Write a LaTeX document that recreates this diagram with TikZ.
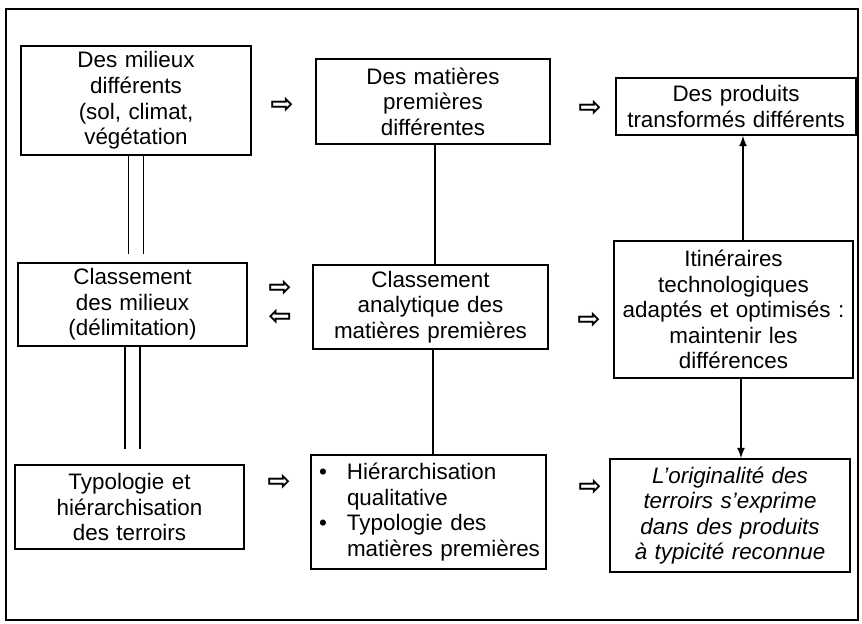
\documentclass[tikz,border=0pt]{standalone}
\usepackage{fontspec}
\setmainfont{Liberation Sans}
\newfontfamily\symfont{DejaVu Sans}
\usepackage{tikz}
\tikzset{boite/.style={rectangle, thick, draw, align=center, inner xsep=0pt, inner ysep=0pt,
   font=\fontsize{11.2}{12.8}\selectfont}}
\tikzset{fleche/.style={inner sep=0pt, font=\symfont\bfseries\fontsize{14}{14}\selectfont}}
\tikzset{trait/.style={thick}}

\begin{document}
\begin{tikzpicture}[x=0.5pt, y=-0.5pt]

    \useasboundingbox (0,0) rectangle (862,624);
    \draw[trait] (6,9) rectangle (858,620);

    % premiere ligne
    \node[boite, text width=115pt, minimum height=54.5pt] (milieux) at (136,100.5)
        {Des milieux\\ différents\\ (sol, climat,\\ végétation};
    \node[boite, text width=117pt, minimum height=42.5pt] (matieres) at (433,101.5)
        {Des matières\\ premières\\ différentes};
    \node[boite, text width=120pt, minimum height=28.5pt] (produits) at (736,106.5)
        {Des produits\\ transformés différents};

    % deuxieme ligne
    \node[boite, text width=114.5pt, minimum height=41.5pt] (classmil) at (132.5,304.5)
        {Classement\\ des milieux\\ (délimitation)};
    \node[boite, text width=117.5pt, minimum height=42pt] (classmat) at (430.5,307)
        {Classement\\ analytique des\\ matières premières};
    \node[boite, text width=119.5pt, minimum height=68.5pt] (itin) at (733.5,309.5)
        {Itinéraires\\ technologiques\\ adaptés et optimisés :\\ maintenir les\\ différences};

    % troisieme ligne
    \node[boite, text width=114.5pt, minimum height=42pt] (typo) at (129.5,507)
        {Typologie et\\ hiérarchisation\\ des terroirs};
    \node[boite, align=left, text width=117.5pt, minimum height=57pt] (hier) at (428.5,512)
        {\hspace*{4pt}\makebox[14pt][l]{\textbullet}Hiérarchisation\\
         \hspace*{18pt}qualitative\\
         \hspace*{4pt}\makebox[14pt][l]{\textbullet}Typologie des\\
         \hspace*{18pt}matières premières};
    \node[boite, text width=120pt, minimum height=56.5pt, font=\fontsize{11.2}{12.8}\selectfont\itshape] (orig) at (730,515.5)
        {L'originalité des\\ terroirs s'exprime\\ dans des produits\\ à typicité reconnue};

    % fleches creuses
    \node[fleche] (f1) at (282,105) {⇨};
    \node[fleche] (f2) at (590,108) {⇨};
    \node[fleche] (f3) at (280,288) {⇨};
    \node[fleche] (f4) at (280,317) {⇦};
    \node[fleche] (f5) at (589,320) {⇨};
    \node[fleche] (f6) at (279,482) {⇨};
    \node[fleche] (f7) at (590,487) {⇨};

    % liaisons
    \draw[trait, shorten >=4pt] ([xshift=-3.75pt]milieux.south) -- ([xshift=-3.75pt]milieux.south |- classmil.north);
    \draw[trait, shorten >=4pt] ([xshift=3.75pt]milieux.south) -- ([xshift=3.75pt]milieux.south |- classmil.north);
    \draw[trait, shorten >=7.5pt] ([xshift=-3.75pt]classmil.south) -- ([xshift=-3.75pt]classmil.south |- typo.north);
    \draw[trait, shorten >=7.5pt] ([xshift=3.75pt]classmil.south) -- ([xshift=3.75pt]classmil.south |- typo.north);
    \draw[trait] ([xshift=1pt]matieres.south) -- ([xshift=1pt]matieres.south |- classmat.north);
    \draw[trait] ([xshift=1.25pt]classmat.south) -- ([xshift=1.25pt]classmat.south |- hier.north);
    \draw[trait, -latex] ([xshift=4.75pt]itin.north) -- ([xshift=4.75pt]itin.north |- produits.south);
    \draw[trait, -latex] ([xshift=3.75pt]itin.south) -- ([xshift=3.75pt]itin.south |- orig.north);

\end{tikzpicture}
\end{document}
